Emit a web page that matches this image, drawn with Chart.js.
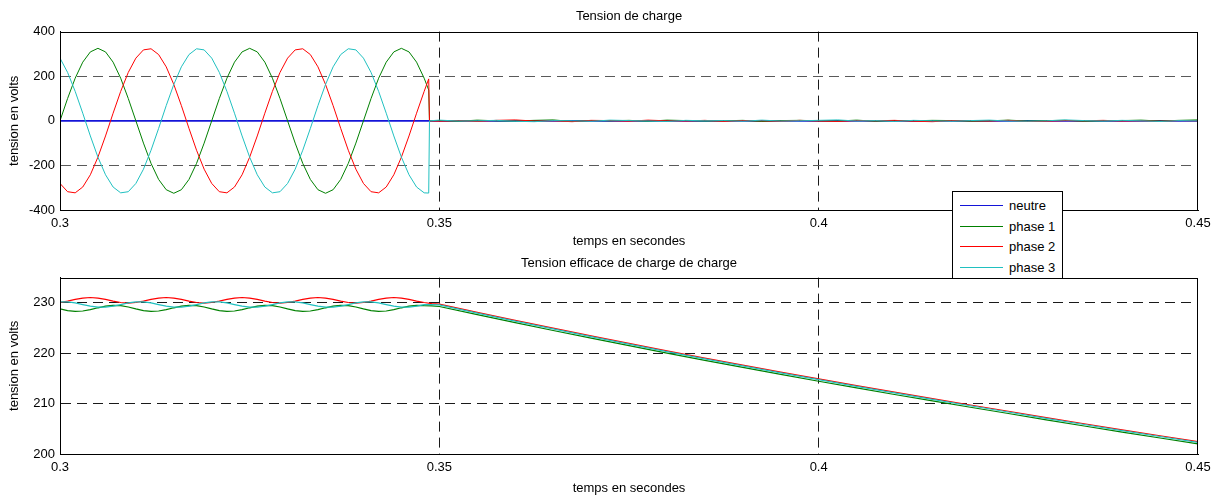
<!DOCTYPE html>
<html lang="fr">
<head>
<meta charset="utf-8">
<title>Tension de charge</title>
<script src="https://cdn.jsdelivr.net/npm/chart.js@4.4.1/dist/chart.umd.min.js"></script>
<style>
    html, body { margin: 0; padding: 0; background: #fff; }
    #page { position: relative; width: 1221px; height: 497px; overflow: hidden; font-family: "Liberation Sans", Arial, sans-serif; }
    #page canvas { position: absolute; left: 0; }
    #legende { position: absolute; left: 952px; top: 191px; width: 111px; height: 88px; box-sizing: border-box; background: #fff; border: 1px solid #000; z-index: 5; font-size: 13px; color: #000; }
    .entree { position: absolute; left: 7px; height: 20px; display: flex; align-items: center; white-space: nowrap; }
    .trait { display: inline-block; width: 43px; height: 0; border-top: 1px solid; margin-right: 6px; }
</style>
</head>
<body>
<div id="page">
    <canvas id="grapheTension" width="1221" height="250" style="top:0"></canvas>
    <canvas id="grapheEfficace" width="1221" height="247" style="top:250px"></canvas>
    <div id="legende"></div>
</div>
<script>
// --- donnees ---
const series = ['neutre', 'phase 1', 'phase 2', 'phase 3'];
const couleurs = ['#1414d8', '#008000', '#ff0000', '#20c0c0'];

const graduationsTemps = [0.3, 0.35, 0.4, 0.45];
const graduationsTension = [-400, -200, 0, 200, 400];
const graduationsEfficace = [200, 210, 220, 230];

// Tension de charge (instantanee)
const tempsNeutre = [0.3, 0.45];
const neutreTension = [0, 0];

const tempsOnde = [
    0.300, 0.301, 0.302, 0.303, 0.304, 0.305, 0.306, 0.307, 0.308, 0.309,
    0.310, 0.311, 0.312, 0.313, 0.314, 0.315, 0.316, 0.317, 0.318, 0.319,
    0.320, 0.321, 0.322, 0.323, 0.324, 0.325, 0.326, 0.327, 0.328, 0.329,
    0.330, 0.331, 0.332, 0.333, 0.334, 0.335, 0.336, 0.337, 0.338, 0.339,
    0.340, 0.341, 0.342, 0.343, 0.344, 0.345, 0.346, 0.347, 0.348, 0.3486, 0.3487
];
const phase1Onde = [
    0, 100, 191, 263, 309, 325, 309, 263, 191, 100, 0, -100, -191, -263, -309, -325, -309, -263, -191, -100,
    0, 100, 191, 263, 309, 325, 309, 263, 191, 100, 0, -100, -191, -263, -309, -325, -309, -263, -191, -100,
    0, 100, 191, 263, 309, 325, 309, 263, 191, 138, 0
];
const phase2Onde = [
    -281, -318, -323, -297, -242, -163, -68, 34, 132, 217, 281, 318, 323, 297, 242, 163, 68, -34, -132, -217,
    -281, -318, -323, -297, -242, -163, -68, 34, 132, 217, 281, 318, 323, 297, 242, 163, 68, -34, -132, -217,
    -281, -318, -323, -297, -242, -163, -68, 34, 132, 188, 0
];
const phase3Onde = [
    281, 217, 132, 34, -68, -163, -242, -297, -323, -318, -281, -217, -132, -34, 68, 163, 242, 297, 323, 318,
    281, 217, 132, 34, -68, -163, -242, -297, -323, -318, -281, -217, -132, -34, 68, 163, 242, 297, 323, 318,
    281, 217, 132, 34, -68, -163, -242, -297, -323, -324, 0
];

const tempsBruit = [
    0.35, 0.3525, 0.355, 0.3575, 0.36, 0.3625, 0.365, 0.3675, 0.37, 0.3725,
    0.375, 0.3775, 0.38, 0.3825, 0.385, 0.3875, 0.39, 0.3925, 0.395, 0.3975,
    0.4, 0.4025, 0.405, 0.4075, 0.41, 0.4125, 0.415, 0.4175, 0.42, 0.4225,
    0.425, 0.4275, 0.43, 0.4325, 0.435, 0.4375, 0.44, 0.4425, 0.445, 0.4475, 0.45
];
const phase1Bruit = [1, -2, 3, 0, -1, 2, 4, -3, 1, 0, 2, -2, 3, 1, -1, 0, 2, -3, 1, 2, 0, -1, 3, -2, 1, 0, 2, 1, -2, 0, 3, -1, 1, 2, -2, 0, 1, 3, -1, 2, 4];
const phase2Bruit = [-2, 1, -3, 2, 4, -1, 0, -4, 2, 1, -2, 3, 0, -1, 2, -3, 1, 0, -2, 2, -1, -3, 1, 0, 2, -2, -4, 1, 0, -1, 2, -3, -2, 1, 0, 2, -1, 0, -2, 1, 0];
const phase3Bruit = [3, -1, 0, 2, -2, -4, 1, 0, -2, 3, 1, -1, -3, 2, 0, 1, -2, 3, -1, 0, 2, 4, -1, 1, -3, 2, 0, -2, 1, 3, -1, -2, 0, 4, 1, -1, 2, 0, -3, 1, 0];

// Tension efficace de charge
const tempsOndulation = [
    0.300, 0.301, 0.302, 0.303, 0.304, 0.305, 0.306, 0.307, 0.308, 0.309,
    0.310, 0.311, 0.312, 0.313, 0.314, 0.315, 0.316, 0.317, 0.318, 0.319,
    0.320, 0.321, 0.322, 0.323, 0.324, 0.325, 0.326, 0.327, 0.328, 0.329,
    0.330, 0.331, 0.332, 0.333, 0.334, 0.335, 0.336, 0.337, 0.338, 0.339,
    0.340, 0.341, 0.342, 0.343, 0.344, 0.345, 0.346, 0.347, 0.348, 0.349
];
const phase1Ondulation = [
    228.79, 228.46, 228.30, 228.37, 228.64, 229.01, 229.34, 229.50, 229.43, 229.16,
    228.79, 228.46, 228.30, 228.37, 228.64, 229.01, 229.34, 229.50, 229.43, 229.16,
    228.79, 228.46, 228.30, 228.37, 228.64, 229.01, 229.34, 229.50, 229.43, 229.16,
    228.79, 228.46, 228.30, 228.37, 228.64, 229.01, 229.34, 229.50, 229.43, 229.16,
    228.79, 228.46, 228.30, 228.37, 228.64, 229.01, 229.34, 229.50, 229.43, 229.40
];
const phase2Ondulation = [
    230.06, 230.33, 230.67, 230.94, 231.05, 230.94, 230.67, 230.33, 230.06, 229.95,
    230.06, 230.33, 230.67, 230.94, 231.05, 230.94, 230.67, 230.33, 230.06, 229.95,
    230.06, 230.33, 230.67, 230.94, 231.05, 230.94, 230.67, 230.33, 230.06, 229.95,
    230.06, 230.33, 230.67, 230.94, 231.05, 230.94, 230.67, 230.33, 230.06, 229.95,
    230.06, 230.33, 230.67, 230.94, 231.05, 230.94, 230.67, 230.33, 230.06, 229.85
];
const phase3Ondulation = [
    230.17, 230.17, 229.97, 229.65, 229.33, 229.13, 229.13, 229.33, 229.65, 229.97,
    230.17, 230.17, 229.97, 229.65, 229.33, 229.13, 229.13, 229.33, 229.65, 229.97,
    230.17, 230.17, 229.97, 229.65, 229.33, 229.13, 229.13, 229.33, 229.65, 229.97,
    230.17, 230.17, 229.97, 229.65, 229.33, 229.13, 229.13, 229.33, 229.65, 229.97,
    230.17, 230.17, 229.97, 229.65, 229.33, 229.13, 229.13, 229.33, 229.65, 229.65
];

const tempsDescente = [
    0.35, 0.355, 0.36, 0.365, 0.37, 0.375, 0.38, 0.385, 0.39, 0.395, 0.4,
    0.405, 0.41, 0.415, 0.42, 0.425, 0.43, 0.435, 0.44, 0.445, 0.45
];
const phase1Descente = [229.27, 227.65, 226.06, 224.51, 222.98, 221.49, 220.02, 218.59, 217.18, 215.80, 214.44, 213.12, 211.81, 210.53, 209.27, 208.03, 206.77, 205.55, 204.35, 203.17, 202.00];
const phase2Descente = [229.72, 228.10, 226.51, 224.96, 223.43, 221.94, 220.47, 219.04, 217.63, 216.25, 214.89, 213.57, 212.26, 210.98, 209.72, 208.48, 207.22, 206.00, 204.80, 203.62, 202.45];
const phase3Descente = [229.57, 227.95, 226.36, 224.81, 223.28, 221.79, 220.32, 218.89, 217.48, 216.10, 214.74, 213.42, 212.11, 210.83, 209.57, 208.33, 207.07, 205.85, 204.65, 203.47, 202.30];

// --- construction des graphes ---
const police = { family: '"Liberation Sans", Arial, sans-serif', size: 13, weight: 'normal' };

// assemble des couples (t, v) pour une echelle lineaire
const points = (temps, valeurs) => temps.map((t, i) => ({ x: t, y: valeurs[i] }));

// cadre noir autour de la zone de trace (style MATLAB)
const cadre = {
    id: 'cadre',
    afterDatasetsDraw(chart) {
        const { ctx, chartArea: a } = chart;
        ctx.save();
        ctx.strokeStyle = '#000';
        ctx.lineWidth = 1;
        ctx.strokeRect(Math.round(a.left) + 0.5, Math.round(a.top) + 0.5, Math.round(a.right - a.left) - 1, Math.round(a.bottom - a.top));
        ctx.restore();
    }
};

// pas de ligne de grille sur les bords (le cadre les remplace)
const grilleInterieure = (couleur, bornes) => ctx =>
    (ctx.tick && bornes.includes(ctx.tick.value)) ? 'rgba(0,0,0,0)' : couleur;

const serie = (label, couleur, data, ordre, epaisseur) => ({
    label: label,
    data: data,
    borderColor: couleur,
    backgroundColor: couleur,
    borderWidth: epaisseur || 1,
    pointRadius: 0,
    tension: 0,
    fill: false,
    order: ordre
});

function creerGraphe(canvasId, titre, titrePadding, hauteurAxeX, yMin, yMax, graduationsY, couleurGrilleY, datasets) {
    return new Chart(document.getElementById(canvasId), {
        type: 'line',
        data: { datasets: datasets },
        plugins: [cadre],
        options: {
            responsive: false,
            animation: false,
            events: [],
            layout: { padding: { left: 0, right: 23, top: 0, bottom: 0 } },
            plugins: {
                legend: { display: false },
                tooltip: { enabled: false },
                title: { display: true, text: titre, color: '#000', font: police, padding: titrePadding, fullSize: false }
            },
            scales: {
                x: {
                    type: 'linear',
                    min: 0.3,
                    max: 0.45,
                    afterBuildTicks: ax => { ax.ticks = graduationsTemps.map(v => ({ value: v })); },
                    afterFit: ax => { ax.height = hauteurAxeX; },
                    ticks: { color: '#000', font: police, padding: 6, maxRotation: 0, autoSkip: false, callback: v => String(+v.toFixed(2)) },
                    grid: { color: grilleInterieure('#1a1a1a', [0.3, 0.45]), lineWidth: 1, drawTicks: false },
                    border: { display: true, color: '#000', width: 1, dash: [10, 6] },
                    title: { display: true, text: 'temps en secondes', color: '#000', font: police, padding: { top: 0, bottom: 1 } }
                },
                y: {
                    type: 'linear',
                    min: yMin,
                    max: yMax,
                    afterBuildTicks: ax => { ax.ticks = graduationsY.map(v => ({ value: v })); },
                    afterFit: ax => { ax.width = 60; },
                    ticks: { color: '#000', font: police, padding: 5, autoSkip: false },
                    grid: { color: grilleInterieure(couleurGrilleY, [yMin, yMax]), lineWidth: 1, drawTicks: false },
                    border: { display: true, color: '#000', width: 1, dash: [10, 6] },
                    title: { display: true, text: 'tension en volts', color: '#000', font: police, padding: { top: 7, bottom: 0 } }
                }
            }
        }
    });
}

creerGraphe('grapheTension', 'Tension de charge', { top: 9, bottom: 7 }, 40, -400, 400, graduationsTension, '#5a5a5a', [
    serie(series[0], couleurs[0], points(tempsNeutre, neutreTension), 3, 1.8),
    serie(series[1], couleurs[1], points(tempsOnde, phase1Onde).concat(points(tempsBruit, phase1Bruit)), 2),
    serie(series[2], couleurs[2], points(tempsOnde, phase2Onde).concat(points(tempsBruit, phase2Bruit)), 1),
    serie(series[3], couleurs[3], points(tempsOnde, phase3Onde).concat(points(tempsBruit, phase3Bruit)), 0)
]);

creerGraphe('grapheEfficace', 'Tension efficace de charge de charge', { top: 6, bottom: 6 }, 43, 200, 235, graduationsEfficace, '#1a1a1a', [
    serie(series[1], couleurs[1], points(tempsOndulation, phase1Ondulation).concat(points(tempsDescente, phase1Descente)), 2, 1.2),
    serie(series[2], couleurs[2], points(tempsOndulation, phase2Ondulation).concat(points(tempsDescente, phase2Descente)), 1, 1.2),
    serie(series[3], couleurs[3], points(tempsOndulation, phase3Ondulation).concat(points(tempsDescente, phase3Descente)), 0, 1.2)
]);

// legende commune (chevauche les deux graphes comme dans la figure)
const legende = document.getElementById('legende');
const centres = [14, 35, 55, 76];
series.forEach((nom, i) => {
    const entree = document.createElement('div');
    entree.className = 'entree';
    entree.style.top = (centres[i] - 10 - 1) + 'px';
    entree.innerHTML = `<span class="trait" style="border-color:${couleurs[i]}"></span>${nom}`;
    legende.appendChild(entree);
});
</script>
</body>
</html>
